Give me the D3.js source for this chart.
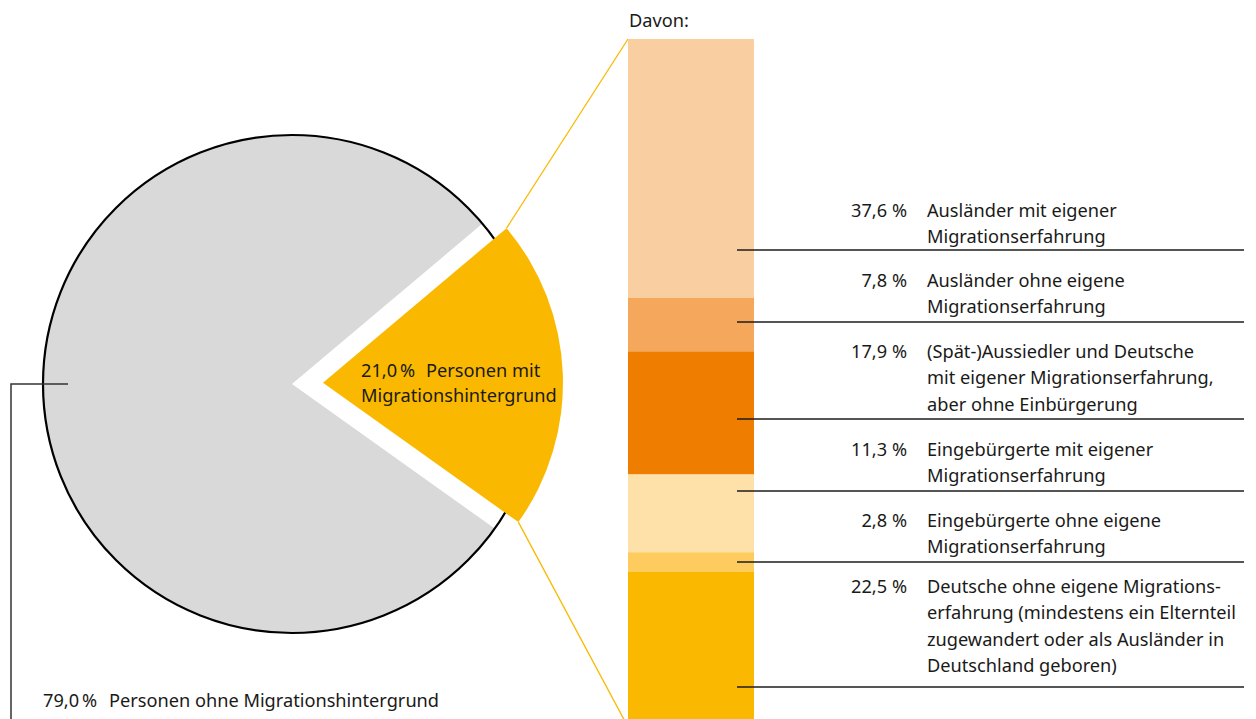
<!DOCTYPE html>
<html><head><meta charset="utf-8">
<script src="https://cdn.jsdelivr.net/npm/d3@7"></script>
<style>
body{margin:0;background:#fff}
svg{display:block}
text{font-family:"Noto Sans", "Open Sans", sans-serif; fill:#1a1a18; font-size:18.2px}
</style>
</head><body>
<svg id="chart" width="1256" height="719"></svg>
<script>
// ---- data ----
const pieCategories = ["Personen mit Migrationshintergrund", "Personen ohne Migrationshintergrund"];
const pieValues = [21.0, 79.0];
const pieValueLabels = ["21,0\u2009%", "79,0\u2009%"];
const pieColors = ["#fab900", "#d9d9d9"];

const barCategories = [
  "Ausländer mit eigener Migrationserfahrung",
  "Ausländer ohne eigene Migrationserfahrung",
  "(Spät-)Aussiedler und Deutsche mit eigener Migrationserfahrung, aber ohne Einbürgerung",
  "Eingebürgerte mit eigener Migrationserfahrung",
  "Eingebürgerte ohne eigene Migrationserfahrung",
  "Deutsche ohne eigene Migrationserfahrung (mindestens ein Elternteil zugewandert oder als Ausländer in Deutschland geboren)"
];
const barValues = [37.6, 7.8, 17.9, 11.3, 2.8, 22.5];
const barValueLabels = ["37,6 %", "7,8 %", "17,9 %", "11,3 %", "2,8 %", "22,5 %"];
const barLabelLines = [
  ["Ausländer mit eigener", "Migrationserfahrung"],
  ["Ausländer ohne eigene", "Migrationserfahrung"],
  ["(Spät-)Aussiedler und Deutsche", "mit eigener Migrationserfahrung,", "aber ohne Einbürgerung"],
  ["Eingebürgerte mit eigener", "Migrationserfahrung"],
  ["Eingebürgerte ohne eigene", "Migrationserfahrung"],
  ["Deutsche ohne eigene Migrations-", "erfahrung (mindestens ein Elternteil", "zugewandert oder als Ausländer in", "Deutschland geboren)"]
];
const barColors = ["#f9cfa1", "#f5a85b", "#ef7d00", "#fde1a9", "#fecb5f", "#fab900"];
// label layout (first baseline, leader-line y)
const labelBaselines = [217, 287, 358, 456, 527, 593];
const leaderYs = [250, 322, 419, 491, 562, 687];

// ---- layout ----
const svg = d3.select("#chart");
const cx = 292, cy = 384, R = 249, Ry = 240, explode = 31;
const startA = 49.9 * Math.PI / 180;
const lineH = 26.4;

const pie = d3.pie().sort(null).startAngle(startA).endAngle(startA + 2 * Math.PI);
const arcsData = pie(pieValues);

const arcGrey = d3.arc().innerRadius(0).outerRadius(R);
const arcYellow = d3.arc().innerRadius(0).outerRadius(Ry);

const pg = svg.append("g").attr("transform", `translate(${cx},${cy})`);
pg.append("path").attr("d", arcGrey(arcsData[1])).attr("fill", pieColors[1]);
pg.append("circle").attr("r", R).attr("fill", "none").attr("stroke", "#000").attr("stroke-width", 2.2);

const y0 = arcsData[0];
const mid = (y0.startAngle + y0.endAngle) / 2;
const ox = Math.sin(mid) * explode, oy = -Math.cos(mid) * explode;
const yg = svg.append("g").attr("transform", `translate(${cx + ox},${cy + oy})`);
yg.append("path").attr("d", arcYellow(y0)).attr("fill", pieColors[0]);

// bar
const yScale = d3.scaleLinear().domain([0, 100]).range([39, 727]);
const xBand = d3.scaleBand().domain(["Davon"]).range([628, 754]);
const stackData = [];
let acc = 0;
barValues.forEach((v, i) => { stackData.push({v, i, s: acc, e: acc + v}); acc += v; });

const cornerTop = [cx + ox + Math.sin(y0.startAngle) * Ry, cy + oy - Math.cos(y0.startAngle) * Ry];
const cornerBot = [cx + ox + Math.sin(y0.endAngle) * Ry, cy + oy - Math.cos(y0.endAngle) * Ry];
svg.append("line").attr("x1", cornerTop[0]).attr("y1", cornerTop[1])
  .attr("x2", xBand("Davon")).attr("y2", yScale(0))
  .attr("stroke", pieColors[0]).attr("stroke-width", 1.3);
svg.append("line").attr("x1", cornerBot[0]).attr("y1", cornerBot[1])
  .attr("x2", xBand("Davon")).attr("y2", yScale(100))
  .attr("stroke", pieColors[0]).attr("stroke-width", 1.3);

svg.append("g").selectAll("rect").data(stackData).join("rect")
  .attr("x", xBand("Davon")).attr("width", xBand.bandwidth())
  .attr("y", d => yScale(d.s)).attr("height", d => yScale(d.e) - yScale(d.s))
  .attr("fill", d => barColors[d.i]);

svg.append("text").attr("x", xBand("Davon") + 1).attr("y", 27).text("Davon:");

svg.append("g").selectAll("line").data(leaderYs).join("line")
  .attr("x1", 737).attr("x2", 1244).attr("y1", d => d).attr("y2", d => d)
  .attr("stroke", "#1d1d1b").attr("stroke-width", 1.5);

const lg = svg.append("g");
barValueLabels.forEach((lab, i) => {
  lg.append("text").attr("x", 907).attr("y", labelBaselines[i]).attr("text-anchor", "end").text(lab);
  const t = lg.append("text").attr("x", 927).attr("y", labelBaselines[i]);
  barLabelLines[i].forEach((ln, j) => {
    t.append("tspan").attr("x", 927).attr("y", labelBaselines[i] + j * lineH).text(ln);
  });
});

svg.append("text").attr("x", 361).attr("y", 377).text(pieValueLabels[0]);
svg.append("text").attr("x", 426).attr("y", 377).text("Personen mit");
svg.append("text").attr("x", 361).attr("y", 402).text("Migrationshintergrund");

svg.append("path")
  .attr("d", `M${cx - R + 25},${cy} H11 V719`)
  .attr("fill", "none").attr("stroke", "#333").attr("stroke-width", 1.5);
svg.append("text").attr("x", 43).attr("y", 707).text(pieValueLabels[1]);
svg.append("text").attr("x", 109).attr("y", 707).text(pieCategories[1]);
</script>
</body></html>
